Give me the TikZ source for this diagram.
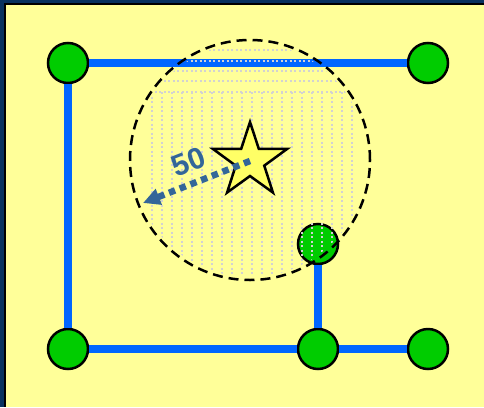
\documentclass[tikz,border=0pt]{standalone}
\usepackage{fontspec}
\setmainfont{Liberation Sans}
\usetikzlibrary{shapes.geometric, arrows.meta}
\definecolor{navy}{HTML}{08325F}
\definecolor{paper}{HTML}{FFFF99}
\definecolor{sitegreen}{HTML}{00CC00}
\definecolor{linkblue}{HTML}{0066FF}
\definecolor{starfill}{HTML}{FFFF66}
\definecolor{rangeblue}{HTML}{336699}

\begin{document}
\begin{tikzpicture}[x=1pt, y=-1pt,
        site/.style={circle, draw=black, line width=2.5pt, fill=sitegreen, minimum size=40pt, inner sep=0pt},
        link/.style={draw=linkblue, line width=8pt},
        hatch/.style={draw=gray!35, line width=1.1pt, dash pattern=on 2pt off 2.5pt},
        coverage/.style={draw=black, line width=2.5pt, dash pattern=on 10pt off 6pt},
        beacon/.style={star, star points=5, star point ratio=2.6, draw=black, line width=2.5pt, fill=starfill, minimum size=78pt, inner sep=0pt},
        reach/.style={draw=rangeblue, line width=6.5pt, dash pattern=on 6.5pt off 5pt, -{Triangle[length=17pt, width=16pt]}}
    ]
    \useasboundingbox (0,0) rectangle (484,407);
    % frame
    \fill[navy] (0,0) rectangle (484,407);
    \fill[black] (4,3) rectangle (484,407);
    \fill[paper] (6,5) rectangle (484,407);

    % sites and links
    \node[site] (A) at (68,63) {};
    \node[site] (B) at (428,63) {};
    \node[site] (C) at (68,349) {};
    \node[site] (D) at (318,349) {};
    \node[site] (E) at (428,349) {};
    \node[site] (F) at (318,244) {};
    \draw[link] (A) -- (B);
    \draw[link] (A) -- (C);
    \draw[link] (C) -- (D);
    \draw[link] (D) -- (E);
    \draw[link] (D) -- (F);

    % covered area
    \begin{scope}
        \clip (250,160) circle (117pt);
        \foreach \x in {152,162,...,352} \draw[hatch] (\x,92) -- (\x,290);
        \foreach \y in {50,61,71,81,92} \draw[hatch] (150,\y) -- (350,\y);
    \end{scope}
    \draw[coverage] (250,160) circle (120pt);

    \node[beacon] (S) at (250,161) {};
    \coordinate (tip) at (143,203);
    \draw[reach] (S.center) -- node[sloped, above=4pt, text=rangeblue, font=\bfseries\fontsize{30}{30}\selectfont] {50} (tip);
\end{tikzpicture}
\end{document}
